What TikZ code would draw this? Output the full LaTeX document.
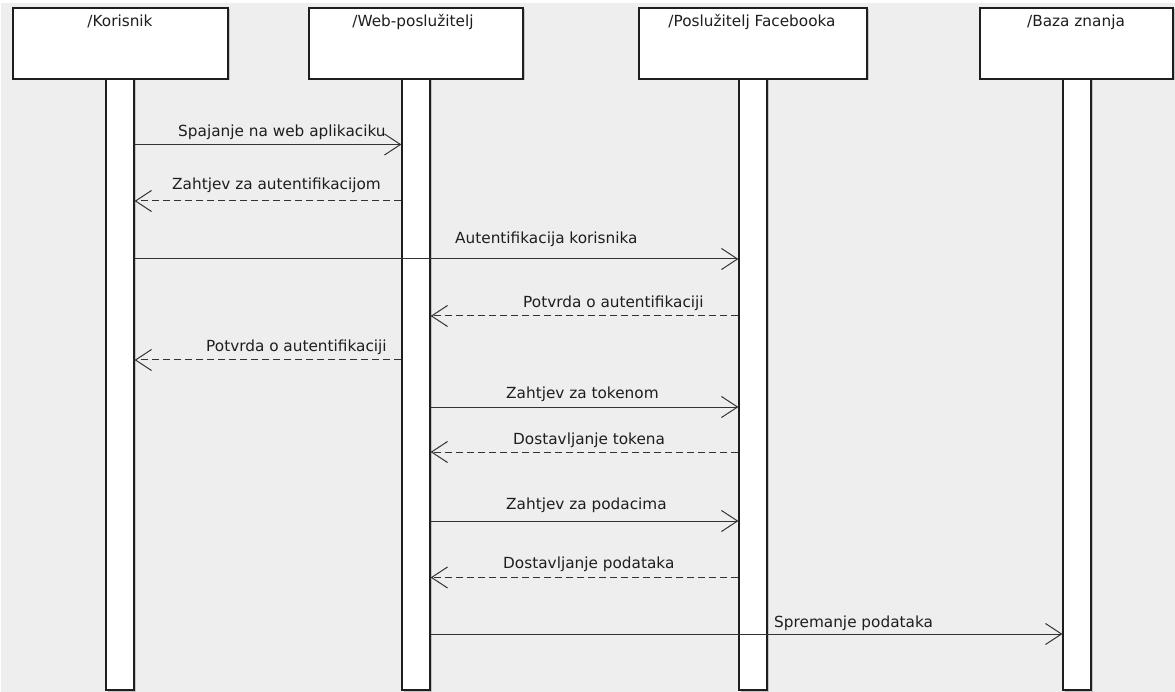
\documentclass[tikz,border=0pt]{standalone}
\usepackage{fontspec}
\setmainfont{DejaVu Sans}
\usetikzlibrary{arrows.meta}
\definecolor{canvas}{HTML}{EEEEEE}
\definecolor{ink}{HTML}{1E1E1E}
\definecolor{wire}{HTML}{333333}
\definecolor{shade}{HTML}{C4C4C4}
\begin{document}
\begin{tikzpicture}[x=1pt,y=-1pt,
  every node/.style={font=\fontsize{15.3}{18}\selectfont, text=ink},
  shadowed/.style={preaction={fill=shade, transform canvas={xshift=1.5pt, yshift=-1.5pt}}},
  headbox/.style={shadowed, draw=ink, fill=white, line width=1.2pt, minimum height=71pt, inner sep=0pt},
  lifebar/.style={shadowed, draw=ink, fill=white, line width=1.2pt, minimum width=28pt, minimum height=611pt, inner sep=0pt},
  title/.style={anchor=base, inner sep=0pt},
  msgtext/.style={anchor=base west, inner sep=0pt},
  msg/.style={draw=wire, line width=1pt, -{Straight Barb[length=16pt,width=21pt,line width=1pt]}},
  reply/.style={msg, dash pattern=on 7pt off 4pt}]

% canvas
\useasboundingbox (0,0) rectangle (1175,692);
\fill[white] (0,0) rectangle (1175,692);
\fill[canvas] (1,3) rectangle (1175,692);

% lifelines
\node[lifebar] (l1) at (120,384.5) {};
\node[lifebar] (l2) at (416,384.5) {};
\node[lifebar] (l3) at (753,384.5) {};
\node[lifebar] (l4) at (1077,384.5) {};

% participant heads
\node[headbox, minimum width=215pt] (h1) at (120.5,43.5) {};
\node[headbox, minimum width=214pt] (h2) at (416,43.5) {};
\node[headbox, minimum width=228pt] (h3) at (753,43.5) {};
\node[headbox, minimum width=193pt] (h4) at (1076.5,43.5) {};

\node[title] (t1) at (120,27) {/Korisnik};
\node[title] (t2) at (413,27) {/Web-poslužitelj};
\node[title] (t3) at (752,27) {/Poslužitelj Facebooka};
\node[title] (t4) at (1076,27) {/Baza znanja};

% messages
\draw[msg]   (l1.east |- 0,144.5) -- (l2.west |- 0,144.5);
\node[msgtext] (m1) at (178,137) {Spajanje na web aplikaciku};

\draw[reply] (l2.west |- 0,201) -- (l1.east |- 0,201);
\node[msgtext] (m2) at (172,190) {Zahtjev za autentifikacijom};

\draw[msg]   (l1.east |- 0,259) -- (l3.west |- 0,259);
\node[msgtext] (m3) at (455,243.5) {Autentifikacija korisnika};

\draw[reply] (l3.west |- 0,316) -- (l2.east |- 0,316);
\node[msgtext] (m4) at (523,308) {Potvrda o autentifikaciji};

\draw[reply] (l2.west |- 0,360) -- (l1.east |- 0,360);
\node[msgtext] (m5) at (206,352) {Potvrda o autentifikaciji};

\draw[msg]   (l2.east |- 0,407) -- (l3.west |- 0,407);
\node[msgtext] (m6) at (506,398.5) {Zahtjev za tokenom};

\draw[reply] (l3.west |- 0,452) -- (l2.east |- 0,452);
\node[msgtext] (m7) at (513,444) {Dostavljanje tokena};

\draw[msg]   (l2.east |- 0,521) -- (l3.west |- 0,521);
\node[msgtext] (m8) at (506,509) {Zahtjev za podacima};

\draw[reply] (l3.west |- 0,577.5) -- (l2.east |- 0,577.5);
\node[msgtext] (m9) at (503,568) {Dostavljanje podataka};

\draw[msg]   (l2.east |- 0,634) -- (l4.west |- 0,634);
\node[msgtext] (m10) at (774,627) {Spremanje podataka};
\end{tikzpicture}
\end{document}
